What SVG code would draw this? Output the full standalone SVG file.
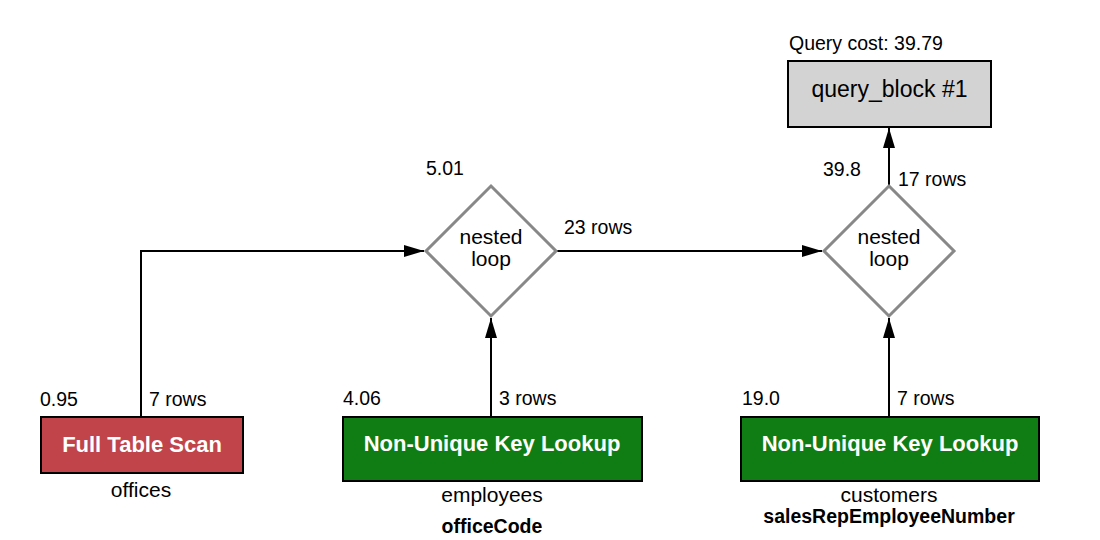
<svg xmlns="http://www.w3.org/2000/svg" width="1100" height="540" viewBox="0 0 1100 540">
<defs>
<style>
text{font-family:"Liberation Sans",Arial,Helvetica,sans-serif;fill:#000}
.sm{font-size:19.5px}
.lbl{font-size:21px;text-anchor:middle}
.blbl{font-size:19.5px;font-weight:bold;text-anchor:middle}
.btxt{font-size:22px;font-weight:bold;fill:#fff;text-anchor:middle}
.nl{font-size:21px;text-anchor:middle}
.box{stroke:#000;stroke-width:2}
.dia{fill:#fff;stroke:#888;stroke-width:3}
.edge{fill:none;stroke:#000;stroke-width:2}
</style>
<marker id="arr" markerUnits="userSpaceOnUse" markerWidth="20" markerHeight="12" refX="20" refY="6" orient="auto">
<path d="M0,0 L20,6 L0,12 z" fill="#000"/>
</marker>
</defs>
<rect width="1100" height="540" fill="#fff"/>
<g id="connectors">
<path class="edge" d="M141,417 V251 H424" marker-end="url(#arr)"/>
<path class="edge" d="M491,417 V318" marker-end="url(#arr)"/>
<path class="edge" d="M557,251 H822" marker-end="url(#arr)"/>
<path class="edge" d="M889,417 V318" marker-end="url(#arr)"/>
<path class="edge" d="M889,186 V128" marker-end="url(#arr)"/>
</g>
<g id="query_block">
<text class="sm" x="789" y="50">Query cost: 39.79</text>
<rect class="box" x="788" y="61" width="203" height="66" fill="#d3d3d3"/>
<text x="889.5" y="97" style="font-size:23px;text-anchor:middle">query_block #1</text>
</g>
<g id="nested_loop_1">
<text class="sm" x="426" y="175">5.01</text>
<polygon class="dia" points="491,186 556,251 491,316 426,251"/>
<text class="nl" x="491" y="244">nested</text>
<text class="nl" x="491" y="266">loop</text>
<text class="sm" x="564" y="234">23 rows</text>
</g>
<g id="nested_loop_2">
<text class="sm" x="823" y="176">39.8</text>
<text class="sm" x="898" y="186">17 rows</text>
<polygon class="dia" points="889,186 954,251 889,316 824,251"/>
<text class="nl" x="889" y="244">nested</text>
<text class="nl" x="889" y="266">loop</text>
</g>
<g id="offices">
<text class="sm" x="40" y="406">0.95</text>
<text class="sm" x="149" y="406">7 rows</text>
<rect class="box" x="41" y="417" width="202" height="56" fill="#c0444a"/>
<text class="btxt" x="142" y="452">Full Table Scan</text>
<text class="lbl" x="141" y="497">offices</text>
</g>
<g id="employees">
<text class="sm" x="343" y="405">4.06</text>
<text class="sm" x="499" y="405">3 rows</text>
<rect class="box" x="343" y="417" width="299" height="64" fill="#0f7d13"/>
<text class="btxt" x="492" y="451">Non-Unique Key Lookup</text>
<text class="lbl" x="492" y="502">employees</text>
<text class="blbl" x="492" y="533">officeCode</text>
</g>
<g id="customers">
<text class="sm" x="742" y="405">19.0</text>
<text class="sm" x="897" y="405">7 rows</text>
<rect class="box" x="741" y="417" width="298" height="64" fill="#0f7d13"/>
<text class="btxt" x="890" y="451">Non-Unique Key Lookup</text>
<text class="lbl" x="889" y="502">customers</text>
<text class="blbl" x="889" y="523">salesRepEmployeeNumber</text>
</g>
</svg>
